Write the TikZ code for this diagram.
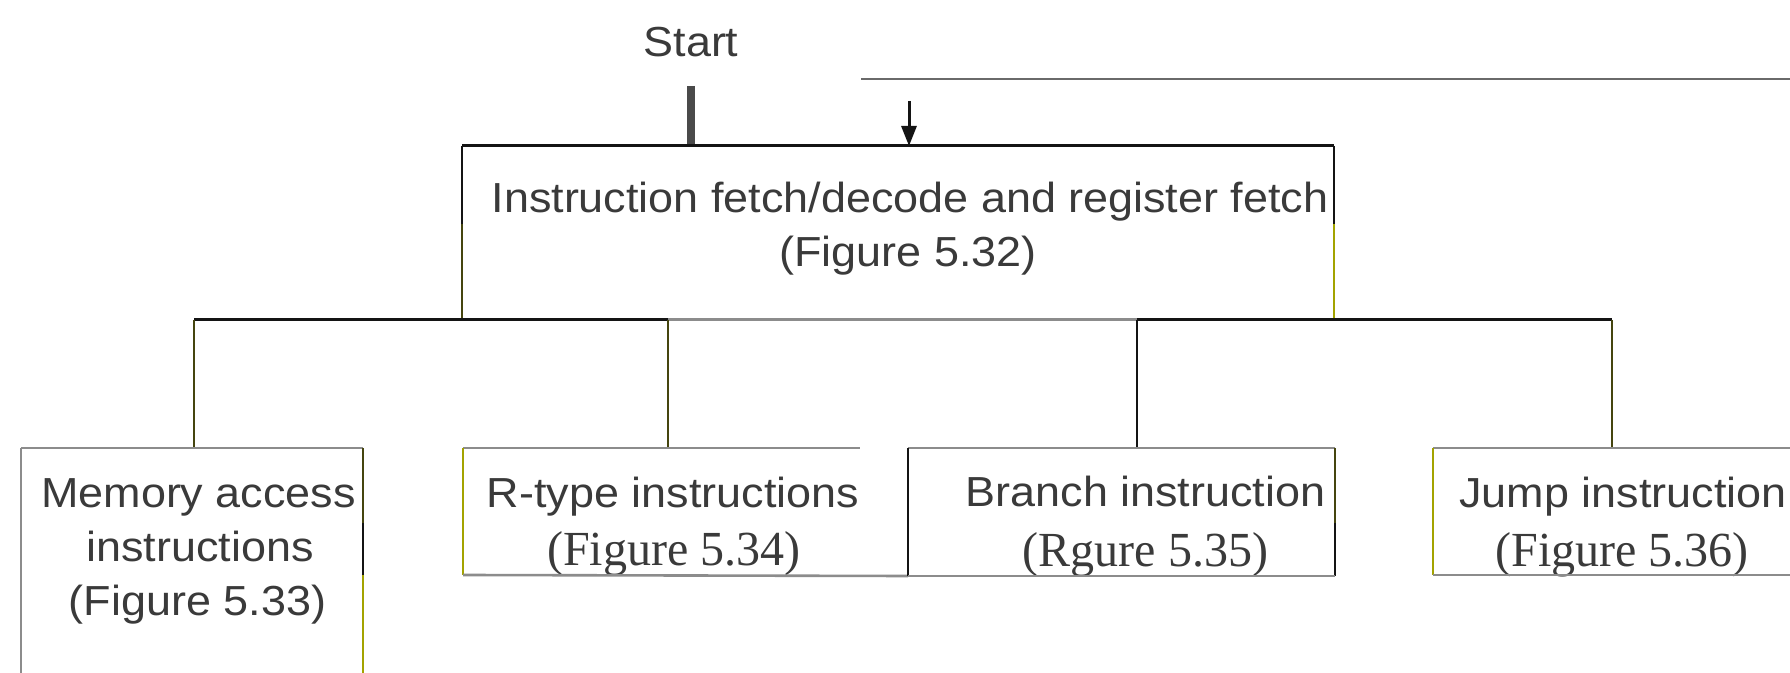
\documentclass[tikz,border=0pt]{standalone}
\usepackage{fontspec}
\setmainfont[FakeStretch=1.07]{Liberation Sans}
\newfontfamily\figserif[FakeStretch=0.98]{Liberation Serif}
\usetikzlibrary{arrows.meta,calc}
\definecolor{lblack}{HTML}{141414}
\definecolor{lgray}{HTML}{8C8C8C}
\definecolor{lolive}{HTML}{45450F}
\definecolor{lyellow}{HTML}{A3A300}
\definecolor{txt}{HTML}{3A3A3A}
\definecolor{barcol}{HTML}{4A4A4A}
\definecolor{fbline}{HTML}{6A6A6A}
\begin{document}
\begin{tikzpicture}[x=0.5pt,y=-0.5pt,
  frame/.style={inner sep=0pt,outer sep=0pt,draw=none},
  lbl/.style={anchor=base,inner sep=0pt,text=txt,font=\fontsize{21pt}{26pt}\selectfont},
  serlbl/.style={anchor=base,inner sep=0pt,text=txt,font=\figserif\fontsize{24.5pt}{28pt}\selectfont},
  heavy/.style={draw=lblack,line width=1.5pt},
  blkside/.style={draw=lblack,line width=1pt},
  olvside/.style={draw=lolive,line width=1pt},
  yelside/.style={draw=lyellow,line width=1pt},
  grayline/.style={draw=lgray,line width=1.3pt},
  tap/.style={draw=lolive,line width=0.9pt},
  tapblk/.style={draw=lblack,line width=0.9pt}
]
\useasboundingbox[fill=white] (0,0) rectangle (1790,673);

% box frames (named, sides drawn below)
\node[frame,minimum width=436pt,minimum height=87pt] (main) at (898,233) {};
\node[frame,minimum width=171pt,minimum height=112.5pt] (mem) at (192,560.5) {};
\node[frame,minimum width=198.5pt,minimum height=63.5pt] (rtype) at (661.5,511.5) {};
\node[frame,minimum width=213.5pt,minimum height=64pt] (branch) at (1121.5,512) {};
\node[frame,minimum width=178.5pt,minimum height=63.5pt] (jump) at (1611.5,511.5) {};

% texts
\node[lbl] (start) at (691,57) {Start};
\node[lbl] (mainA) at (910,213) {Instruction fetch/decode and register fetch};
\node[lbl] (mainB) at (908,267) {(Figure 5.32)};
\node[lbl] (memA) at (198.5,508) {Memory access};
\node[lbl] (memB) at (200,562) {instructions};
\node[lbl] (memC) at (197.5,616) {(Figure 5.33)};
\node[lbl] (rtA) at (673,508) {R-type instructions};
\node[serlbl] (rtB) at (674,566) {(Figure 5.34)};
\node[lbl] (brA) at (1145.5,507) {Branch instruction};
\node[serlbl] (brB) at (1145.5,567) {(Rgure 5.35)};
\node[lbl] (jpA) at (1623,508) {Jump instruction};
\node[serlbl] (jpB) at (1622,567) {(Figure 5.36)};

% start bar
\coordinate (s0) at (691,86);
\draw[draw=barcol,line width=4pt] (s0) -- (s0 |- main.north);

% feedback line and arrow
\coordinate (fb0) at (861,79);
\coordinate (fb1) at (1790,79);
\draw[draw=fbline,line width=1.4pt] (fb0) -- (fb1);
\coordinate (a0) at (909,101);
\draw[draw=lblack,line width=1.5pt,-{Triangle[width=7.5pt,length=10pt]}] (a0) -- (a0 |- main.north);

% main box
\draw[heavy] (main.north west) -- (main.north east);
\coordinate (mL) at ($(main.north west)!0.45!(main.south west)$);
\coordinate (mR) at ($(main.north east)!0.45!(main.south east)$);
\draw[blkside] (main.north west) -- (mL);
\draw[olvside] (mL) -- (main.south west);
\draw[blkside] (main.north east) -- (mR);
\draw[yelside] (mR) -- (main.south east);

% bus
\coordinate (t1) at (194,320);
\coordinate (t2) at (668,320);
\coordinate (t3) at (1137,320);
\coordinate (t4) at (1612,320);
\draw[heavy] (t1) -- (t2);
\draw[grayline,line width=1.5pt] (t2) -- (t3);
\draw[heavy] (t3) -- (t4);
\draw[tap] (t1) -- (t1 |- mem.north);
\draw[tap] (t2) -- (t2 |- rtype.north);
\draw[tapblk] (t3) -- (t3 |- branch.north);
\draw[tap] (t4) -- (t4 |- jump.north);

% memory box (open at the bottom)
\draw[grayline] (mem.north west) -- (mem.north east);
\draw[grayline,line width=1pt] (mem.north west) -- (mem.south west);
\coordinate (mem1) at (mem.north east |- 0,523);
\coordinate (mem2) at (mem.north east |- 0,575);
\draw[olvside] (mem.north east) -- (mem1);
\draw[blkside] (mem1) -- (mem2);
\draw[yelside] (mem2) -- (mem.south east);

% R-type box
\draw[grayline] (rtype.north west) -- (rtype.north east);
\draw[yelside] (rtype.north west) -- (rtype.south west);
\draw[grayline] (rtype.south west) -- (branch.south west);

% branch box
\draw[grayline] (branch.north west) -- (branch.north east);
\draw[blkside] (branch.north west) -- (branch.south west);
\coordinate (br1) at (branch.north east |- 0,523);
\draw[olvside] (branch.north east) -- (br1);
\draw[blkside] (br1) -- (branch.south east);
\draw[grayline] (branch.south west) -- (branch.south east);

% jump box
\draw[grayline] (jump.north west) -- (jump.north east);
\draw[yelside] (jump.north west) -- (jump.south west);
\draw[grayline] (jump.south west) -- (jump.south east);
\end{tikzpicture}
\end{document}
